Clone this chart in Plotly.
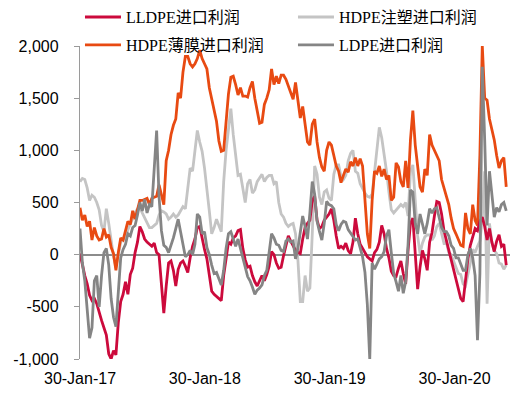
import pandas as pd
import plotly.graph_objects as go

# weekly observations starting 30-Jan-2017
dates = pd.date_range("2017-01-30", periods=179, freq="7D")

lldpe = [
    10, -110, -200, -280, -390, -440, -420, -470, -560, -630,
    -700, -770, -950, -1000, -920, -960, -650, -450, -380, -260,
    -380, -190, -130, 20, 120, 270, 220, 150, 120, 100,
    80, 110, 20, 0, -250, -560, -300, -80, -60, -150,
    -300, -140, -80, -60, -110, -170, -30, 80, 150, 260,
    270, 140, 50, -40, -190, -350, -380, -400, -420, -440,
    -200, -20, 120, 100, 160, 180, 230, 240, 60, -50,
    -120, -110, -200, -260, -300, -250, -200, -250, -190, -110,
    30, 0, -80, -130, -120, -10, 90, 180, 130, 80,
    40, 20, 10, 150, 260, 300, 330, 520, 560, 330,
    250, 270, 330, 360, 390, 440, 330, 180, 60, 80,
    60, 110, 40, 10, 120, 350, 200, 100, 60, 10,
    -20, -40, -60, 20, 50, 120, 280, 200, 60, -30,
    -160, -200, -210, -130, -60, -180, -280, 40, 300, 350,
    40, -330, -120, 40, -40, -150, 120, 210, 370, 510,
    500, 390, 230, 140, 50, -40, -130, -220, -320, -420,
    -450, -230, -40, 90, 180, 250, 230, 320, 360, 270,
    140, 250, 120, 30, 130, 190, 80, 100, -100,
]

hdpe_injection = [
    700, 730, 720, 640, 520, 570, 550, 500, 430, 280,
    220, 440, 300, 120, -20, -120, 0, 120, 150, 150,
    240, 300, 360, 400, 440, 450, 400, 350, 300, 260,
    260, 280, 300, 380, 420, 410, 390, 340, 360, 390,
    360, 380, 420, 460, 440, 650, 830, 800, 1000, 1190,
    1080, 990, 830, 650, 420, 200, 260, 340, 270, 220,
    700, 1000, 1200, 1400, 1150, 930, 760, 770, 650, 500,
    680, 720, 590, 620, 700, 730, 770, 700, 740, 760,
    760, 680, 700, 500, 390, 360, 300, 270, 290, 300,
    200, -50, -450, -450, -200, -350, -320, 200, 850, 770,
    550, 480, 600, 620, 540, 520, 770, 860, 860, 750,
    720, 760, 900, 970, 1000, 800, 780, 680, 630, 590,
    560, 550, 580, 780, 1020, 1220, 1120, 980, 800, 600,
    430, 400, 430, 450, 480, 460, 500, 370, 800, 860,
    560, 180, 10, 110, 170, 190, 190, 140, 180, 270,
    300, 200, 110, 120, 20, 0, -60, -110, -180, -190,
    -280, -300, -200, -80, 50, 20, 80, 130, 350, 800,
    -470, 300, 120, 40, 10, -80, -90, -140, -100,
]

hdpe_film = [
    450, 330, 380, 270, 320, 140, 260, 180, 140, 150,
    250, 170, 190, 70, 10, -150, 20, 160, 140, 230,
    320, 290, 420, 340, 420, 520, 520, 530, 540, 480,
    540, 550, 560, 670, 580, 480, 900, 1000, 1150, 1240,
    1300, 1550, 1500, 1750, 1900, 1900, 1830, 1800, 1830, 1880,
    1960, 1880, 1830, 1780, 1600, 1500, 1400, 1280, 1090, 990,
    1000, 1300, 1540, 1700, 1710, 1630, 1530, 1600, 1520, 1520,
    1510, 1600, 1660, 1500, 1380, 1260, 1270, 1440, 1500, 1580,
    1780, 1630, 1710, 1640, 1720, 1720, 1680, 1610, 1560, 1490,
    1650, 1500, 1310, 1420, 1260, 1080, 1050, 1250, 1300, 1080,
    930, 840, 800, 1000, 1080, 1050, 950, 850, 800, 690,
    760, 820, 790, 890, 850, 930, 850, 920, 850, 500,
    200, 60, 520, 800, 780, 850, 750, 820, 720, 760,
    520, 550, 880, 840, 700, 650, 900, 640, 1100, 1380,
    1050, 850, 650, 600, 820, 760, 1150, 1050, 1000, 950,
    900, 720, 640, 560, 480, 350, 250, 200, 150, 90,
    80, 400, 250, 200, 480, 330, 280, 960, 2000, 1500,
    1480, 1300, 1200, 1100, 950, 830, 900, 930, 650,
]

ldpe = [
    250, -80, -250, -560, -800, -700, -250, -200, -500, -200,
    20, 60, -100, -420, -600, -690, -300, -30, 50, 100,
    200, 180, 260, 280, 380, 500, 420, 530, 400, 480,
    460, 800, 1190, 560, 230, 90, 70, 20, 80, 160,
    250, 340, 220, 90, -20, 0, 40, 0, 100, 390,
    360, 200, 220, 70, 0, -100, -180, -170, -240, -290,
    -150, 60, 200, 220, 150, 80, 150, 50, -40, -120,
    -210, -250, -310, -380, -340, -320, -290, -200, -150, 20,
    200, 160, 100, 90, 40, 30, 130, 150, 120, 130,
    -40, 60, 200, 370, 270, 150, 400, 700, 580, 320,
    220, 140, 300, 510, 480, 470, 440, 290, 230, 290,
    320, 310, 240, 210, 180, 140, 150, 70, -20, -170,
    -480, -1000, -80, -140, -90, -40, -20, 30, 180, 240,
    20, -180, -260, -350, -200, -370, -260, 100, 620, 600,
    300, 200, 390, 290, 200, 300, 440, 400, 440, 450,
    350, 260, 220, 220, 180, 90, 60, -30, -30, -100,
    -150, -150, 0, 60, -30, -200, -820, -180, 1800, 1100,
    280, 800, 600, 360, 450, 410, 480, 500, 420,
]

x_tick_vals = ["2017-01-30", "2018-01-30", "2019-01-30", "2020-01-30"]
x_tick_text = ["30-Jan-17", "30-Jan-18", "30-Jan-19", "30-Jan-20"]
y_tick_vals = [-1000, -500, 0, 500, 1000, 1500, 2000]
y_tick_text = ["-1,000", "-500", "0", "500", "1,000", "1,500", "2,000"]

series = [
    # name, values, color, legend, rank (draw order = list order)
    ("HDPE注塑进口利润", hdpe_injection, "#C4C4C4", "legend", 2),
    ("HDPE薄膜进口利润", hdpe_film, "#E84A12", "legend2", 3),
    ("LLDPE进口利润", lldpe, "#CC0A3C", "legend", 1),
    ("LDPE进口利润", ldpe, "#858585", "legend2", 4),
]

fig = go.Figure()
for name, vals, color, leg, rank in series:
    fig.add_trace(go.Scatter(
        x=dates, y=vals, name=name, mode="lines",
        line=dict(color=color, width=2.8),
        legend=leg, legendrank=rank,
    ))

legend_font = dict(family="Liberation Serif, 'Noto Sans CJK SC', serif", size=16, color="#000000")
tick_font = dict(family="Liberation Sans, Arial, sans-serif", size=16, color="#000000")

fig.update_layout(
    width=532, height=396,
    margin=dict(l=72, r=30, t=38, b=45, autoexpand=False),
    paper_bgcolor="white", plot_bgcolor="white",
    showlegend=True,
    legend=dict(orientation="h", xref="container", yref="container",
                x=0.1353, xanchor="left", y=0.977, yanchor="middle",
                itemwidth=36, entrywidth=162, entrywidthmode="pixels", font=legend_font,
                bgcolor="rgba(0,0,0,0)", traceorder="normal"),
    legend2=dict(orientation="h", xref="container", yref="container",
                 x=0.1353, xanchor="left", y=0.9066, yanchor="middle",
                 itemwidth=36, entrywidth=162, entrywidthmode="pixels", font=legend_font,
                 bgcolor="rgba(0,0,0,0)", traceorder="normal"),
    xaxis=dict(type="date", range=["2017-01-30", "2020-07-10"],
               tickvals=x_tick_vals, ticktext=x_tick_text, tickfont=tick_font,
               showline=False, showgrid=False, zeroline=False, ticks="",
               ticklabelstandoff=8),
    yaxis=dict(range=[-1000, 2000], tickvals=y_tick_vals, ticktext=y_tick_text,
               tickfont=tick_font, showline=True, linecolor="#9A9A9A", linewidth=1.3,
               ticks="outside", ticklen=5, tickcolor="#9A9A9A", tickwidth=1.3,
               showgrid=False, zeroline=True, zerolinecolor="#8C8C8C", zerolinewidth=1.5,
               ticklabelstandoff=12),
)

fig.write_html("out.html")
